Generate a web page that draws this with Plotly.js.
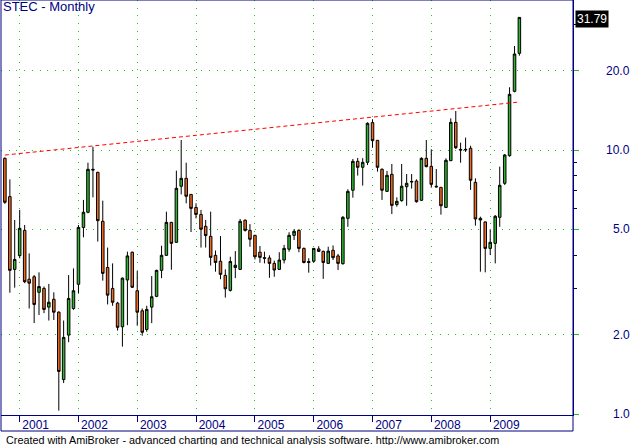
<!DOCTYPE html>
<html>
<head>
<meta charset="utf-8">
<script src="https://cdn.plot.ly/plotly-3.0.1.min.js"></script>
<style>
  html, body { margin: 0; padding: 0; background: #ffffff; }
  #chart { width: 634px; height: 445px; }
</style>
</head>
<body>
<div id="chart"></div>
<script>
// ---- DATA (monthly bars) ----
const months = [
  '2000-10','2000-11','2000-12',
  '2001-01','2001-02','2001-03','2001-04','2001-05','2001-06','2001-07','2001-08','2001-09','2001-10','2001-11','2001-12',
  '2002-01','2002-02','2002-03','2002-04','2002-05','2002-06','2002-07','2002-08','2002-09','2002-10','2002-11','2002-12',
  '2003-01','2003-02','2003-03','2003-04','2003-05','2003-06','2003-07','2003-08','2003-09','2003-10','2003-11','2003-12',
  '2004-01','2004-02','2004-03','2004-04','2004-05','2004-06','2004-07','2004-08','2004-09','2004-10','2004-11','2004-12',
  '2005-01','2005-02','2005-03','2005-04','2005-05','2005-06','2005-07','2005-08','2005-09','2005-10','2005-11','2005-12',
  '2006-01','2006-02','2006-03','2006-04','2006-05','2006-06','2006-07','2006-08','2006-09','2006-10','2006-11','2006-12',
  '2007-01','2007-02','2007-03','2007-04','2007-05','2007-06','2007-07','2007-08','2007-09','2007-10','2007-11','2007-12',
  '2008-01','2008-02','2008-03','2008-04','2008-05','2008-06','2008-07','2008-08','2008-09','2008-10','2008-11','2008-12',
  '2009-01','2009-02','2009-03','2009-04','2009-05','2009-06','2009-07'
];
const opens = [
  9.30, 6.66, 3.53,
  3.98, 4.96, 3.24, 3.31, 2.89, 2.99, 2.54, 2.72, 2.43, 1.35, 1.99, 2.51,
  3.10, 5.09, 5.81, 8.45, 8.23, 5.37, 3.59, 2.99, 2.63, 2.14, 3.22, 4.10,
  2.93, 2.46, 2.09, 2.54, 2.79, 3.50, 3.99, 5.32, 4.47, 7.29, 7.81, 6.79,
  6.06, 5.70, 5.14, 4.71, 3.99, 3.79, 3.35, 2.94, 3.59, 3.53, 5.42, 4.96,
  4.75, 4.10, 3.91, 3.90, 3.72, 3.53, 3.83, 4.21, 4.75, 4.96, 4.24, 3.78,
  3.79, 4.22, 4.13, 3.72, 4.17, 3.97, 3.71, 5.51, 7.04, 9.06, 8.60, 8.98,
  12.70, 10.88, 8.45, 6.97, 8.09, 6.21, 6.43, 7.26, 7.56, 7.63, 6.45, 9.30,
  8.67, 7.29, 7.22, 6.06, 9.11, 12.73, 10.05, 10.00, 10.15, 7.54, 5.51, 5.34,
  4.24, 4.43, 5.56, 7.48, 9.52, 16.68, 23.24
];
const highs = [
  9.38, 7.74, 5.43,
  5.93, 5.20, 4.06, 3.36, 3.44, 3.04, 3.11, 2.89, 2.45, 2.26, 3.36, 3.56,
  5.20, 6.47, 8.95, 10.29, 8.27, 6.43, 4.27, 3.72, 2.66, 3.29, 4.12, 4.12,
  3.48, 2.51, 2.57, 3.33, 3.52, 4.34, 5.84, 5.34, 8.35, 10.91, 8.95, 6.81,
  6.28, 5.93, 5.43, 5.84, 4.16, 4.72, 3.53, 3.94, 4.14, 5.48, 5.46, 5.24,
  4.77, 4.33, 4.12, 3.99, 3.81, 4.10, 4.37, 4.88, 5.01, 5.01, 4.27, 3.89,
  4.25, 4.32, 4.16, 4.30, 4.35, 4.04, 5.62, 7.10, 9.25, 9.33, 9.31, 12.73,
  13.07, 10.90, 8.52, 8.33, 8.85, 6.62, 8.85, 8.11, 8.11, 7.74, 9.38, 10.91,
  10.06, 8.47, 7.23, 9.30, 13.18, 14.05, 10.66, 11.14, 10.38, 7.81, 5.59, 5.36,
  5.01, 5.67, 8.65, 9.66, 17.28, 24.77, 31.85
];
const lows = [
  6.25, 2.88, 3.01,
  3.89, 3.13, 2.51, 2.21, 2.37, 2.41, 2.26, 2.27, 1.03, 1.31, 1.87, 2.48,
  2.87, 4.67, 5.76, 6.62, 4.50, 3.20, 2.60, 2.57, 2.07, 1.80, 2.17, 3.00,
  2.16, 1.98, 2.05, 2.21, 2.77, 3.27, 3.97, 3.52, 4.45, 6.79, 6.28, 4.89,
  5.51, 4.27, 4.27, 3.65, 3.46, 3.24, 2.76, 2.91, 3.27, 3.51, 4.91, 4.30,
  3.85, 3.74, 3.72, 3.28, 3.31, 3.51, 3.72, 4.12, 4.56, 4.10, 3.72, 3.43,
  3.75, 4.11, 3.25, 3.70, 3.83, 3.51, 3.68, 5.12, 6.60, 8.00, 7.33, 8.77,
  10.20, 8.28, 6.47, 6.95, 5.72, 6.10, 6.37, 6.15, 7.14, 6.32, 6.41, 8.60,
  7.20, 7.22, 5.69, 6.05, 9.10, 10.09, 8.95, 9.83, 7.06, 5.17, 3.46, 3.44,
  4.00, 3.72, 5.12, 7.37, 9.43, 16.54, 22.77
];
const closes = [
  6.34, 3.50, 3.85,
  5.05, 3.17, 3.13, 2.60, 3.04, 2.49, 2.65, 2.43, 1.45, 1.95, 2.74, 2.93,
  5.09, 5.81, 8.45, 8.40, 5.40, 3.41, 2.82, 2.65, 2.13, 3.27, 3.97, 3.02,
  2.43, 2.04, 2.49, 2.78, 3.50, 3.99, 5.32, 4.43, 7.16, 7.81, 6.68, 6.01,
  5.70, 5.01, 4.74, 3.92, 3.75, 3.38, 2.98, 3.78, 3.66, 5.37, 4.96, 4.59,
  3.94, 3.92, 3.89, 3.72, 3.51, 3.83, 4.24, 4.75, 4.92, 4.24, 3.75, 3.75,
  4.24, 4.13, 3.75, 4.14, 3.91, 3.72, 5.56, 6.97, 9.06, 8.60, 8.98, 12.62,
  10.85, 8.60, 7.04, 8.02, 6.17, 6.39, 7.29, 7.48, 7.60, 6.37, 9.30, 8.65,
  7.41, 7.25, 6.15, 9.14, 12.73, 10.20, 10.00, 10.05, 7.68, 5.48, 5.43, 4.24,
  4.47, 5.61, 7.35, 9.57, 16.25, 23.10, 31.79
];
// dashed resistance trend line (two anchor points)
const trendDates  = ['2000-10', '2009-07'];
const trendValues = [9.57, 15.2];
// axis labels
const yearTicks  = ['2001-01-01','2002-01-01','2003-01-01','2004-01-01','2005-01-01','2006-01-01','2007-01-01','2008-01-01','2009-01-01'];
const yearLabels = ['2001','2002','2003','2004','2005','2006','2007','2008','2009'];
const priceTicks  = [1, 2, 5, 10, 20];
const priceLabels = ['1.0', '2.0', '5.0', '10.0', '20.0'];
const minorPriceTicks = [3, 4, 6, 7, 8, 9, 30];
const chartTitle = 'STEC - Monthly';
const footerText = 'Created with AmiBroker - advanced charting and technical analysis software. http://www.amibroker.com';

// ---- STYLE ----
const NAVY = '#000080';
const GRID = '#22c322';
const UP = '#2db52d';
const DOWN = '#f26a1e';
const FONT = 'Liberation Sans, Arial, sans-serif';
const PLOT_H = 415;   // px height of plot area
const PLOT_W = 572;   // px width of plot area

const candles = {
  type: 'candlestick',
  x: months, open: opens, high: highs, low: lows, close: closes,
  increasing: { line: { color: '#000000', width: 1 }, fillcolor: UP },
  decreasing: { line: { color: '#000000', width: 1 }, fillcolor: DOWN },
  whiskerwidth: 0,
  hoverinfo: 'skip',
  showlegend: false
};
const trend = {
  type: 'scatter', mode: 'lines',
  x: trendDates, y: trendValues,
  line: { color: '#ff0000', width: 1, dash: '4px,3px' },
  hoverinfo: 'skip', showlegend: false
};

const annotations = [];
priceTicks.forEach((v, i) => {
  annotations.push({
    xref: 'paper', yref: 'y', x: (632 - 1) / PLOT_W, y: Math.log10(v),
    xanchor: 'right', yanchor: 'middle', showarrow: false,
    text: priceLabels[i], font: { family: FONT, size: 12, color: NAVY }
  });
});
const lastClose = closes[closes.length - 1];
annotations.push({
  xref: 'paper', yref: 'y', x: (575 - 1) / PLOT_W, y: Math.log10(lastClose),
  xanchor: 'left', yanchor: 'middle', yshift: -2, showarrow: false,
  text: lastClose.toFixed(2), bgcolor: '#000000', borderpad: 1,
  font: { family: FONT, size: 12, color: '#ffffff' }
});
annotations.push({
  xref: 'paper', yref: 'paper', x: (4 - 1) / PLOT_W, y: -(439.5 - PLOT_H) / PLOT_H,
  xanchor: 'left', yanchor: 'middle', showarrow: false,
  text: footerText, font: { family: FONT, size: 10.8, color: '#000000' }
});

const layout = {
  width: 634, height: 445,
  margin: { l: 1, r: 61, t: 0, b: 30, pad: 0 },
  paper_bgcolor: '#ffffff', plot_bgcolor: '#ffffff',
  showlegend: false,
  boxgap: 0.2,
  title: {
    text: chartTitle, x: 3 / 634, xanchor: 'left', xref: 'container',
    y: 1 - 2 / 445, yanchor: 'top', yref: 'container',
    font: { family: FONT, size: 13, color: NAVY }
  },
  xaxis: {
    type: 'date',
    range: ['2000-09-07', '2010-05-30'],
    rangeslider: { visible: false },
    tickmode: 'array', tickvals: yearTicks, ticktext: yearLabels,
    ticks: 'outside', ticklen: 6, tickwidth: 1, tickcolor: NAVY,
    ticklabelshift: 16, ticklabelstandoff: -7,
    tickfont: { family: FONT, size: 12, color: NAVY },
    showgrid: true, gridcolor: GRID, gridwidth: 1, griddash: '1px,6.7px',
    showline: true, linecolor: NAVY, linewidth: 1,
    zeroline: false, fixedrange: true
  },
  yaxis: {
    type: 'log', side: 'right',
    range: [-1 / 264, 414 / 264],
    tickmode: 'array', tickvals: priceTicks, ticktext: priceLabels,
    showticklabels: false,
    ticks: 'outside', ticklen: 5, tickwidth: 1, tickcolor: GRID,
    minor: { tickmode: 'array', tickvals: minorPriceTicks, ticks: 'outside', ticklen: 3, tickcolor: NAVY, showgrid: false },
    showgrid: true, gridcolor: GRID, gridwidth: 1, griddash: '1px,6.7px',
    showline: true, linecolor: NAVY, linewidth: 1,
    zeroline: false, fixedrange: true
  },
  shapes: [
    { type: 'rect', xref: 'paper', yref: 'paper', x0: 0, x1: 1, y0: -16 / PLOT_H, y1: 1,
      line: { color: NAVY, width: 1 }, fillcolor: 'rgba(0,0,0,0)', layer: 'above' }
  ],
  annotations: annotations,
  dragmode: false, hovermode: false
};

Plotly.newPlot('chart', [candles, trend], layout, { staticPlot: true, displayModeBar: false });
</script>
</body>
</html>
